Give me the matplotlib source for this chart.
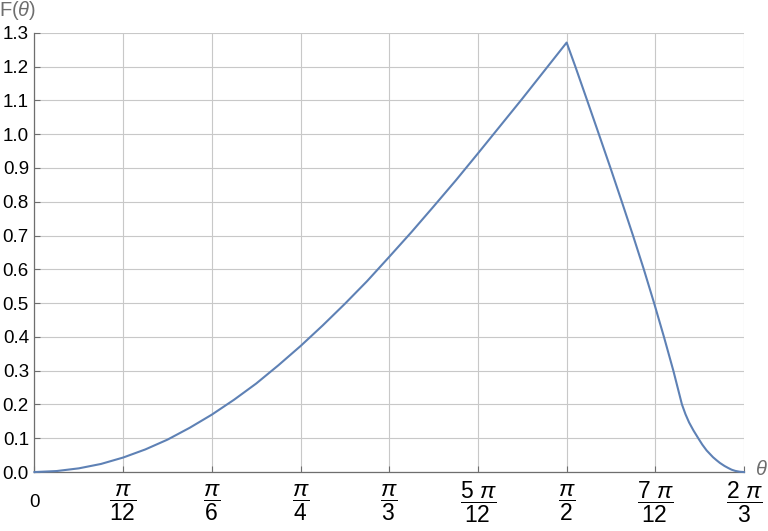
import numpy as np
import matplotlib
matplotlib.use("Agg")
import matplotlib.pyplot as plt

plt.rcParams['font.family'] = ['Liberation Sans', 'DejaVu Sans']
plt.rcParams['mathtext.fontset'] = 'custom'
plt.rcParams['mathtext.rm'] = 'Liberation Sans'
plt.rcParams['mathtext.it'] = 'Liberation Sans:italic'

# theta in units of pi/12
theta_12 = [0, 0.25, 0.5, 0.75, 1, 1.25, 1.5, 1.75, 2, 2.25, 2.5, 2.75, 3,
            3.25, 3.5, 3.75, 4, 4.25, 4.5, 4.75, 5, 5.25, 5.5, 5.75, 6.0,
            6.098, 6.231, 6.363, 6.494, 6.622, 6.748, 6.870, 6.986,
            7.097, 7.203, 7.300, 7.34, 7.38, 7.43, 7.484, 7.53, 7.578,
            7.65, 7.69, 7.728, 7.78, 7.822, 7.86, 7.9, 7.95, 8.0]
F_vals = [0, 0.003, 0.011, 0.024, 0.043, 0.067, 0.096, 0.131, 0.170,
          0.214, 0.262, 0.316, 0.373, 0.434, 0.498, 0.565, 0.637,
          0.710, 0.786, 0.863, 0.943, 1.024, 1.105, 1.188, 1.271,
          1.2, 1.1, 1.0, 0.9, 0.8, 0.7, 0.6, 0.5,
          0.4, 0.3, 0.200, 0.171, 0.147, 0.123, 0.100, 0.081, 0.064,
          0.044, 0.035, 0.027, 0.018, 0.012, 0.007, 0.0035, 0.001, 0.0]

xtick_12 = [0, 1, 2, 3, 4, 5, 6, 7, 8]
xtick_labels = ['0', r'$\dfrac{\pi}{12}$', r'$\dfrac{\pi}{6}$', r'$\dfrac{\pi}{4}$',
                r'$\dfrac{\pi}{3}$', r'$\dfrac{5\ \pi}{12}$', r'$\dfrac{\pi}{2}$',
                r'$\dfrac{7\ \pi}{12}$', r'$\dfrac{2\ \pi}{3}$']
yticks = [0.0, 0.1, 0.2, 0.3, 0.4, 0.5, 0.6, 0.7, 0.8, 0.9, 1.0, 1.1, 1.2, 1.3]

x = np.array(theta_12) * np.pi / 12
y = np.array(F_vals)

fig = plt.figure(figsize=(7.68, 5.31), dpi=100)
ax = fig.add_axes([0.0449, 0.111, 0.9239, 0.8273])

ax.plot(x, y, color='#5E81B5', lw=1.5, solid_joinstyle='round', clip_on=False, zorder=3)

ax.set_xlim(0, 2 * np.pi / 3)
ax.set_ylim(0, 1.3)
ax.set_xticks(np.array(xtick_12) * np.pi / 12)
ax.set_xticklabels(xtick_labels)
ax.set_yticks(yticks)
ax.set_yticklabels(['%.1f' % v for v in yticks])

ax.grid(True, color='#c8c8c8', lw=0.8)
ax.set_axisbelow(True)
for s in ['top', 'right']:
    ax.spines[s].set_visible(False)
for s in ['left', 'bottom']:
    ax.spines[s].set_color('#6e6e6e')
    ax.spines[s].set_linewidth(0.9)

ax.tick_params(axis='both', direction='in', length=4, width=0.8, color='#6e6e6e',
               labelcolor='black')
ax.tick_params(axis='y', pad=4, labelsize=13.5)
ax.tick_params(axis='x', pad=22, labelsize=16.5)
for lbl in ax.get_xticklabels():
    lbl.set_va('center')
ax.get_xticklabels()[0].set_fontsize(13.5)

ax.annotate(r'F($\theta$)', xy=(0, 1.3), xytext=(1, 8), textcoords='offset points',
            ha='right', va='bottom', fontsize=14.5, color='#6e6e6e', annotation_clip=False)
ax.annotate(r'$\theta$', xy=(2 * np.pi / 3, 0), xytext=(8, 2), textcoords='offset points',
            ha='left', va='center', fontsize=14.5, color='#6e6e6e', annotation_clip=False)

fig.savefig('out.png', dpi=100)
